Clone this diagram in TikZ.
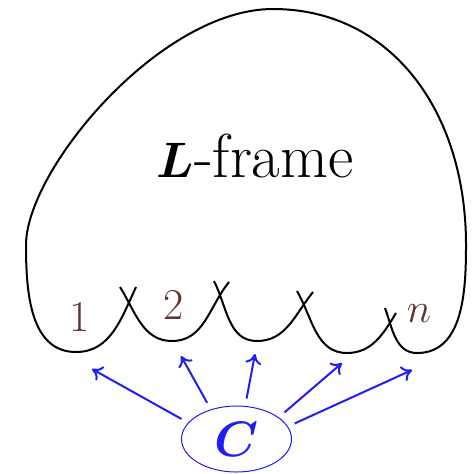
\documentclass[tikz,border=0pt]{standalone}
\usepackage{amsmath,amssymb,bm}
\usetikzlibrary{arrows.meta,shapes.geometric}
\definecolor{labbrown}{RGB}{100,50,50}
\definecolor{cblue}{RGB}{30,30,245}

\begin{document}
\begin{tikzpicture}[x=0.5pt, y=0.5pt, >={To[length=5pt,width=8pt]},
	frameline/.style={line width=1pt},
	looplabel/.style={labbrown, font=\fontsize{22}{25}\selectfont},
	carrow/.style={cblue, line width=1pt, ->}]
	\useasboundingbox (0,0) rectangle (475,-473);
	% the frame with its first and last loop
	\draw[frameline] (136,-287) to[out=245,in=0] (76,-352) to[out=180,in=270] (26,-245)
		.. controls (26,-170) and (160,-9) .. (273,-9)
		.. controls (390,-9) and (466,-110) .. (466,-245)
		to[out=270,in=0] (417,-353) to[out=180,in=290] (385,-308);
	% the loops in between
	\draw[frameline] (120,-287) to[out=-58,in=180] (172,-341) to[out=0,in=231] (229,-282);
	\draw[frameline] (214,-281) to[out=-63,in=180] (257,-341) to[out=0,in=231] (313,-292);
	\draw[frameline] (297,-291) to[out=-60,in=180] (347,-353) to[out=0,in=239] (396,-313);
	\node[font=\fontsize{31}{36}\selectfont] (title) at (255,-156) {$\bm{L}$-frame};
	\node[looplabel] (l1) at (80,-317) {1};
	\node[looplabel] (l2) at (174,-305) {2};
	\node[looplabel] (ln) at (419,-314) {$n$};
	\node[ellipse, draw=cblue, line width=0.5pt, minimum width=55pt, minimum height=33pt,
		inner sep=0pt, outer sep=4pt, text=cblue, font=\fontsize{31}{34}\selectfont] (C) at (236.5,-439) {$\bm{C}$};
	\coordinate (t1) at (92,-369);
	\coordinate (t2) at (181,-356);
	\coordinate (t3) at (255,-354);
	\coordinate (t4) at (342,-363);
	\coordinate (t5) at (412,-370);
	\draw[carrow] (C.160) -- (t1);
	\draw[carrow] (C.129) -- (t2);
	\draw[carrow] (C.76) -- (t3);
	\draw[carrow] (C.29) -- (t4);
	\draw[carrow] (C.15) -- (t5);
\end{tikzpicture}
\end{document}
